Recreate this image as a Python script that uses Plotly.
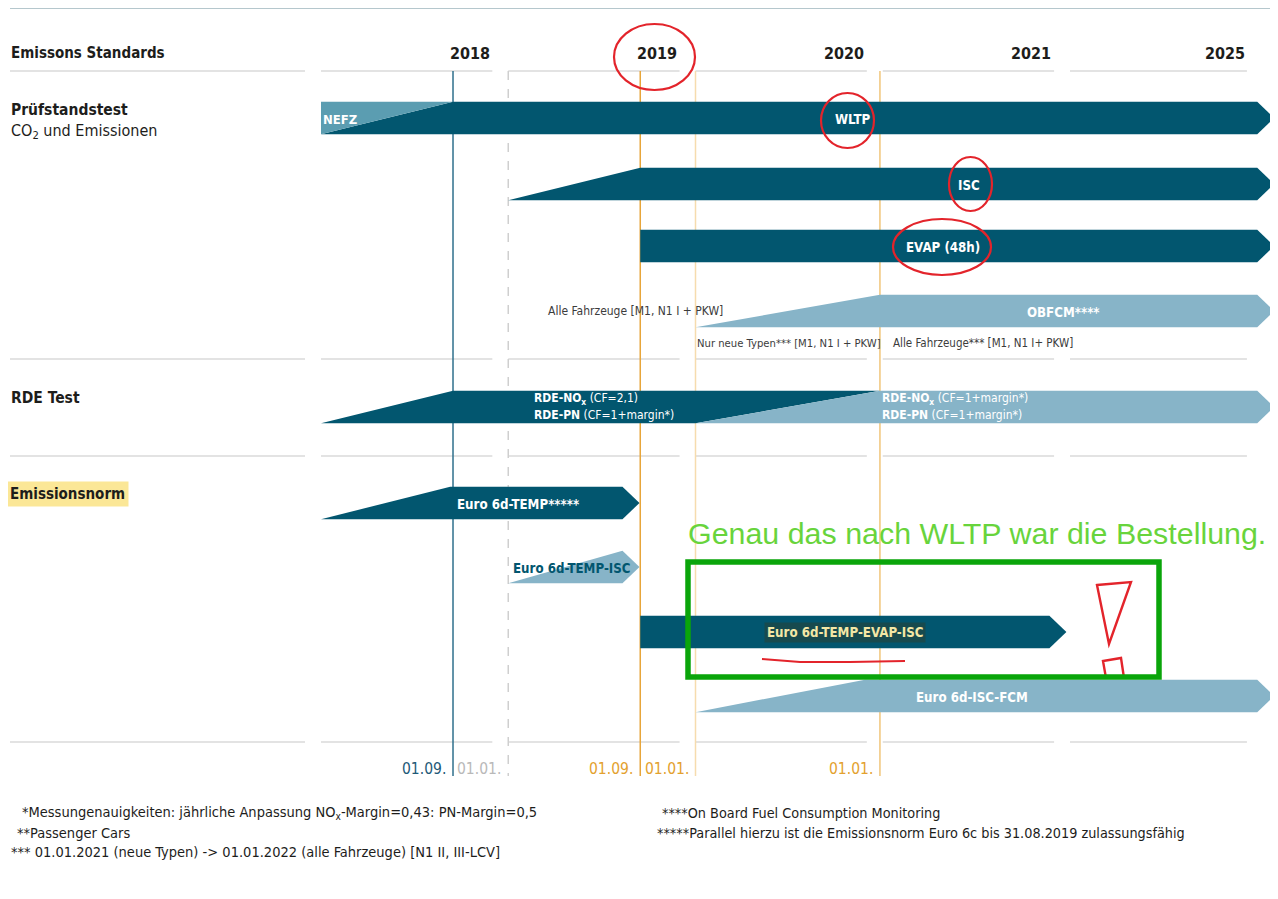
import plotly.graph_objects as go

# ---------------- data (timeline in column units: 0=2018, 1=2019, 2=2020, 3=2021, 4=2025) -------------
years = ["2018", "2019", "2020", "2021", "2025"]
year_label_pos = [0.915, 1.91, 2.91, 3.91, 4.945]

bar_labels = ["WLTP", "ISC", "EVAP (48h)", "OBFCM****", "RDE",
              "Euro 6d-TEMP*****", "Euro 6d-TEMP-ISC", "Euro 6d-TEMP-EVAP-ISC", "Euro 6d-ISC-FCM"]
bar_start = [0.0, 1.0, 1.705, 2.0, 0.0, 0.0, 1.0, 1.705, 2.0]
bar_full = [0.705, 1.705, 1.705, 2.985, 0.705, 0.69, 1.61, 1.705, 2.905]
bar_end = [5.0, 5.0, 5.0, 5.0, 2.985, 1.61, 1.61, 3.89, 5.0]
bar_tone = ["dark", "dark", "dark", "light", "dark", "dark", "light", "dark", "light"]

# NEFZ phase-out wedge and RDE phase-in of the new conformity factor
nefz_start, nefz_end = 0.0, 0.705
rde_new_start, rde_new_full, rde_new_end = 2.0, 2.985, 5.0

milestone_pos = [0.705, 1.0, 1.705, 2.0, 2.985]
milestone_text = ["01.09.", "01.01.", "01.09.", "01.01.", "01.01."]

footnotes_left = [
    "*Messungenauigkeiten: jährliche Anpassung NO<sub>x</sub>-Margin=0,43: PN-Margin=0,5",
    "**Passenger Cars",
    "*** 01.01.2021 (neue Typen) -> 01.01.2022 (alle Fahrzeuge) [N1 II, III-LCV]",
]
footnotes_right = [
    "****On Board Fuel Consumption Monitoring",
    "*****Parallel hierzu ist die Emissionsnorm Euro 6c bis 31.08.2019 zulassungsfähig",
]

# ---------------- layout / style ----------------
PAGE_W, PAGE_H = 1278, 899
OFF = 8                      # default page margin around the plot div
FW, FH = PAGE_W - OFF, PAGE_H - OFF
X0_PX, COL_PX = 321.0, 187.25


def P(px):
    """page pixel -> paper x"""
    return (px - OFF) / FW


row_y = [118, 184, 246, 311, 407, 503, 567, 632, 696]
HALF = 16.2
TIP = 17 / COL_PX

DARK = "#02566f"
LIGHT = "#87b4c8"
NEFZC = "#5b9db1"
FONT = "Liberation Sans Narrow, DejaVu Sans Condensed, Roboto, sans-serif"
TXT = "#1d1d1b"

fig = go.Figure()


def poly(xs, ys, color):
    fig.add_trace(go.Scatter(x=xs + [xs[0]], y=ys + [ys[0]], mode="lines", fill="toself",
                             fillcolor=color, line=dict(width=0, color=color),
                             hoverinfo="skip", showlegend=False))


for i, name in enumerate(bar_labels):
    yc = row_y[i]
    yt, yb = yc - HALF, yc + HALF
    color = DARK if bar_tone[i] == "dark" else LIGHT
    s, f, e = bar_start[i], bar_full[i], bar_end[i]
    if name == "RDE":
        poly([s, f, e, rde_new_start], [yb, yt, yt, yb], color)
        poly([rde_new_start, rde_new_full, rde_new_end, rde_new_end + TIP, rde_new_end],
             [yb, yt, yt, yc, yb], LIGHT)
        continue
    xs, ys = [s], [yb]
    xs.append(f if f > s else s); ys.append(yt)
    xs += [e, e + TIP, e]
    ys += [yt, yc, yb]
    poly(xs, ys, color)
    if name == "WLTP":
        poly([nefz_start, nefz_end, nefz_start], [yt, yt, yb], NEFZC)

shapes = []
annos = []

# top rule
shapes.append(dict(type="line", xref="paper", yref="y", x0=P(10), x1=1.0, y0=8, y1=8,
                   line=dict(color="#6d8f9c", width=1)))

# separator rows
col_ends = [0.915, 0.915, 0.915, 0.915, 0.945]
for ysep in [71, 359, 456, 742]:
    shapes.append(dict(type="line", xref="paper", yref="y", x0=P(10), x1=P(305), y0=ysep, y1=ysep,
                       line=dict(color="#c8c8c8", width=1.2), layer="below"))
    for k in range(5):
        shapes.append(dict(type="line", xref="x", yref="y", x0=k, x1=k + col_ends[k], y0=ysep, y1=ysep,
                           line=dict(color="#c8c8c8", width=1.2), layer="below"))

# milestone vertical lines
ms_line_colors = ["#2f6f8c", "#cfcfcf", "#e7a53a", "#f6dcae", "#f0c57a"]
ms_text_colors = ["#1e5a78", "#b9b9b9", "#e3a12e", "#e3a12e", "#e3a12e"]
ms_dash = ["solid", "dash", "solid", "solid", "solid"]
for p, c, d in zip(milestone_pos, ms_line_colors, ms_dash):
    shapes.append(dict(type="line", xref="x", yref="y", x0=p, x1=p, y0=71, y1=776,
                       line=dict(color=c, width=1.5, dash=d), layer="below"))
for p, txt, c in zip(milestone_pos, milestone_text, ms_text_colors):
    annos.append(dict(x=p - 5 / COL_PX, y=769, xref="x", yref="y", text=txt, showarrow=False,
                      xanchor="right", yanchor="middle", font=dict(family=FONT, size=15.5, color=c)))

# header labels
annos.append(dict(x=P(9), y=53, xref="paper", yref="y", text="<b>Emissons Standards</b>", showarrow=False,
                  xanchor="left", yanchor="middle", font=dict(family=FONT, size=15, color=TXT)))
for yr, p in zip(years, year_label_pos):
    annos.append(dict(x=p, y=53, xref="x", yref="y", text="<b>" + yr + "</b>", showarrow=False,
                      xanchor="right", yanchor="middle", font=dict(family=FONT, size=16, color=TXT)))

annos.append(dict(x=P(9), y=110, xref="paper", yref="y", text="<b>Prüfstandstest</b>", showarrow=False,
                  xanchor="left", yanchor="middle", font=dict(family=FONT, size=15.5, color=TXT)))
annos.append(dict(x=P(9), y=131, xref="paper", yref="y", text="CO<sub>2</sub> und Emissionen", showarrow=False,
                  xanchor="left", yanchor="middle", font=dict(family=FONT, size=16, color=TXT)))
annos.append(dict(x=P(9), y=398, xref="paper", yref="y", text="<b>RDE Test</b>", showarrow=False,
                  xanchor="left", yanchor="middle", font=dict(family=FONT, size=15.5, color=TXT)))
annos.append(dict(x=P(6), y=494, xref="paper", yref="y", text="<b>Emissionsnorm</b>", showarrow=False,
                  xanchor="left", yanchor="middle", bgcolor="#fbe797", borderpad=3,
                  font=dict(family=FONT, size=15, color=TXT)))

# bar labels
W_ = "#ffffff"
label_spec = {
    "WLTP": (2.84, "center", W_),
    "ISC": (3.46, "center", W_),
    "EVAP (48h)": (3.32, "center", W_),
    "OBFCM****": (3.965, "center", W_),
    "Euro 6d-TEMP*****": (1.052, "center", W_),
    "Euro 6d-TEMP-ISC": (1.015, "left", DARK),
    "Euro 6d-ISC-FCM": (3.478, "center", W_),
}
for i, name in enumerate(bar_labels):
    if name in label_spec:
        x, anc, col = label_spec[name]
        annos.append(dict(x=x, y=row_y[i] + 1, xref="x", yref="y", text="<b>" + name + "</b>", showarrow=False,
                          xanchor=anc, yanchor="middle", font=dict(family=FONT, size=13.2, color=col)))
    if name == "Euro 6d-TEMP-EVAP-ISC":
        annos.append(dict(x=2.8, y=row_y[i], xref="x", yref="y", text="<b>" + name + "</b>", showarrow=False,
                          xanchor="center", yanchor="middle", bgcolor="#174a4e", borderpad=2,
                          font=dict(family=FONT, size=13.2, color="#f3e7a6")))

annos.append(dict(x=0.0, y=119, xref="x", yref="y", text="<b>NEFZ</b>", showarrow=False,
                  xanchor="left", yanchor="middle", font=dict(family=FONT, size=13, color=W_)))

# RDE labels
for x0, l1, l2 in [(1.126, "<b>RDE-NO<sub>x</sub></b> (CF=2,1)", "<b>RDE-PN</b> (CF=1+margin*)"),
                   (2.985, "<b>RDE-NO<sub>x</sub></b> (CF=1+margin*)", "<b>RDE-PN</b> (CF=1+margin*)")]:
    annos.append(dict(x=x0, y=399, xref="x", yref="y", text=l1, showarrow=False,
                      xanchor="left", yanchor="middle", font=dict(family=FONT, size=12, color=W_)))
    annos.append(dict(x=x0, y=415, xref="x", yref="y", text=l2, showarrow=False,
                      xanchor="left", yanchor="middle", font=dict(family=FONT, size=12, color=W_)))

# OBFCM notes
GR = "#3c3c3c"
annos.append(dict(x=P(546), y=311, xref="paper", yref="y", text="Alle Fahrzeuge [M1, N1 I + PKW]", showarrow=False,
                  xanchor="left", yanchor="middle", font=dict(family=FONT, size=12, color=GR)))
annos.append(dict(x=P(695), y=343, xref="paper", yref="y", text="Nur neue Typen*** [M1, N1 I + PKW]", showarrow=False,
                  xanchor="left", yanchor="middle", font=dict(family=FONT, size=11.2, color=GR)))
annos.append(dict(x=P(891), y=343, xref="paper", yref="y", text="Alle Fahrzeuge*** [M1, N1 I+ PKW]", showarrow=False,
                  xanchor="left", yanchor="middle", font=dict(family=FONT, size=11.5, color=GR)))

# footnotes
for j, (t, xp) in enumerate(zip(footnotes_left, [20, 15, 9])):
    annos.append(dict(x=P(xp), y=813 + 19.5 * j, xref="paper", yref="y", text=t, showarrow=False,
                      xanchor="left", yanchor="middle", font=dict(family=FONT, size=14.5, color=TXT)))
for j, (t, xp) in enumerate(zip(footnotes_right, [660, 655])):
    annos.append(dict(x=P(xp), y=813 + 19.5 * j, xref="paper", yref="y", text=t, showarrow=False,
                      xanchor="left", yanchor="middle", font=dict(family=FONT, size=14.3, color=TXT)))

# ---- hand-drawn markup ----
RED = "#e3242b"
for (x0, x1, y0, y1) in [(614, 695, 24, 90), (821, 874, 93, 148), (949, 992, 157, 211), (893, 991, 219, 275)]:
    shapes.append(dict(type="circle", xref="paper", yref="y", x0=P(x0), x1=P(x1), y0=y0, y1=y1,
                       line=dict(color=RED, width=2.2)))


def ppath(pts, close=False):
    s = "M" + " L".join(f"{P(x):.5f},{y}" for x, y in pts)
    return s + (" Z" if close else "")


shapes.append(dict(type="path", xref="paper", yref="y", path=ppath([(1097, 585), (1131, 582), (1109, 644)], True),
                   line=dict(color=RED, width=2.4)))
shapes.append(dict(type="path", xref="paper", yref="y",
                   path=ppath([(1106, 678), (1103, 661), (1121, 658), (1124, 678)]),
                   line=dict(color=RED, width=2.4)))
shapes.append(dict(type="path", xref="paper", yref="y",
                   path=ppath([(762, 659), (800, 662), (850, 662), (905, 661)]),
                   line=dict(color=RED, width=2.2)))

shapes.append(dict(type="rect", xref="paper", yref="y", x0=P(688), x1=P(1159), y0=562, y1=677,
                   line=dict(color="#0aa50a", width=5.5)))
annos.append(dict(x=P(686), y=533, xref="paper", yref="y", text="Genau das nach WLTP war die Bestellung.",
                  showarrow=False, xanchor="left", yanchor="middle",
                  font=dict(family="Liberation Sans, Arial, sans-serif", size=30.4, color="#68d43c")))

fig.update_layout(
    width=FW, height=FH, margin=dict(l=0, r=0, t=0, b=0),
    paper_bgcolor="white", plot_bgcolor="white",
    xaxis=dict(range=[(OFF - X0_PX) / COL_PX, (PAGE_W - X0_PX) / COL_PX], visible=False, fixedrange=True),
    yaxis=dict(range=[PAGE_H, OFF], visible=False, fixedrange=True),
    shapes=shapes, annotations=annos, showlegend=False,
)

fig.write_html("out.html", config={"displayModeBar": False})
